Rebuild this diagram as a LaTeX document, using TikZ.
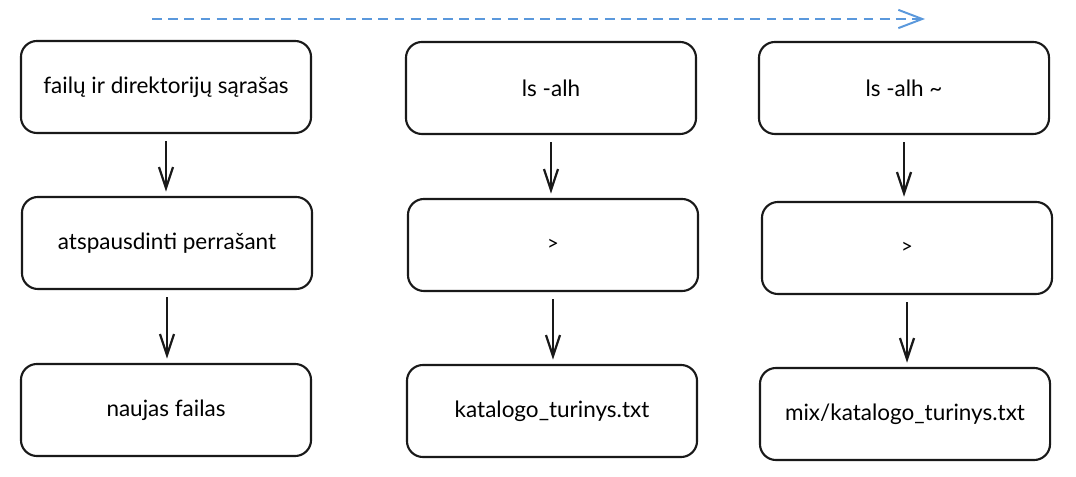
\documentclass[tikz,border=0pt]{standalone}
\usepackage{fontspec}
\setmainfont{Lato}
\usetikzlibrary{arrows.meta}
\definecolor{dashblue}{RGB}{90,152,220}
\tikzstyle{box}=[draw=black!90,line width=1.5pt,rounded corners=0.4cm,minimum width=7.25cm,minimum height=2.3cm,font=\fontsize{16}{19}\selectfont]
\tikzstyle{flow}=[-{Straight Barb[length=15pt,width=10pt]},line width=1.6pt,draw=black!90,shorten <=5pt,shorten >=3pt]
\tikzstyle{order}=[-{Straight Barb[length=17pt,width=13pt]},dashblue,line width=1.4pt,dash pattern=on 7pt off 4.5pt]

\begin{document}
\begin{tikzpicture}[x=0.025cm,y=-0.025cm]
                  \useasboundingbox (0,0) rectangle (1076,477);

                  \coordinate (ds) at (152,19);
                  \coordinate (de) at (925,19);
                  \draw [order] (ds) -- (de);

                  \node (a1) at (166,87) [box] {failų ir direktorijų sąrašas};
                  \node (a2) at (167,243) [box] {atspausdinti perrašant};
                  \node (a3) at (166,410) [box] {naujas failas};

                  \node (b1) at (551,88) [box] {ls -alh};
                  \node (b2) at (553,245) [box] {\Large >};
                  \node (b3) at (552,411) [box] {katalogo\_turinys.txt};

                  \node (c1) at (904,88) [box] {ls -alh \textasciitilde};
                  \node (c2) at (907,248) [box] {\Large >};
                  \node (c3) at (905,414) [box] {mix/katalogo\_turinys.txt};

                  \draw [flow] (a1.south) -- (a1.south |- a2.north);
                  \draw [flow] (a2.south) -- (a2.south |- a3.north);
                  \draw [flow] (b1.south) -- (b1.south |- b2.north);
                  \draw [flow] (b2.south) -- (b2.south |- b3.north);
                  \draw [flow] (c1.south) -- (c1.south |- c2.north);
                  \draw [flow] (c2.south) -- (c2.south |- c3.north);
              \end{tikzpicture}
\end{document}
